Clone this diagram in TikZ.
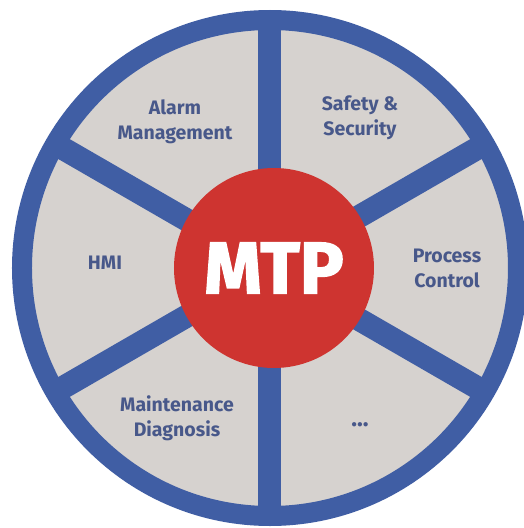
\documentclass[tikz,border=0pt]{standalone}
\usepackage{fontspec}
\setmainfont{Fira Sans}
\usepackage{tikz}
\usetikzlibrary{positioning, calc}

\definecolor{ringblue}{RGB}{64,94,164}
\definecolor{sectorgray}{RGB}{214,210,207}
\definecolor{hubred}{RGB}{206,52,48}
\definecolor{labelblue}{RGB}{72,88,138}

\begin{document}
\begin{tikzpicture}
        [x=1pt, y=1pt,
        rim/.style={draw=ringblue, line width=20pt, fill=sectorgray},
        spoke/.style={draw=ringblue, line width=23pt},
        hub/.style={circle, fill=hubred, minimum size=200pt, inner sep=0pt, text=white,
                    font=\fontsize{73}{73}\selectfont\bfseries\addfontfeatures{FakeBold=2}},
        topic/.style={align=center, text=labelblue, font=\fontsize{19.5}{25}\selectfont\bfseries}]
        \useasboundingbox (-270,-260) rectangle (254,268);

        \path[rim] (0,0) circle (248);

        \coordinate (centre) at (0,0);
        \coordinate (r90)  at (90:248);
        \coordinate (r30)  at (30:248);
        \coordinate (r-30) at (-30:248);
        \coordinate (r-90) at (-90:248);
        \coordinate (r210) at (210:248);
        \coordinate (r150) at (150:248);

        \path (centre) edge[spoke] (r90)
              (centre) edge[spoke] (r30)
              (centre) edge[spoke] (r-30)
              (centre) edge[spoke] (r-90)
              (centre) edge[spoke] (r210)
              (centre) edge[spoke] (r150);

        \node[hub]    (mtp)      at (4,0)       {MTP};

        \node[topic]  (alarm)    at (-95,146)   {Alarm\\Management};
        \node[topic]  (safety)   at (90,150)    {Safety \&\\Security};
        \node[topic]  (hmi)      at (-165,5)    {HMI};
        \node[topic]  (process)  at (177,0)     {Process\\Control};
        \node[topic]  (maint)    at (-93,-150)  {Maintenance\\Diagnosis};
        \node[topic, anchor=base, font=\fontsize{24}{25}\selectfont\bfseries]  (more)  at (90,-158)  {...};
\end{tikzpicture}
\end{document}
